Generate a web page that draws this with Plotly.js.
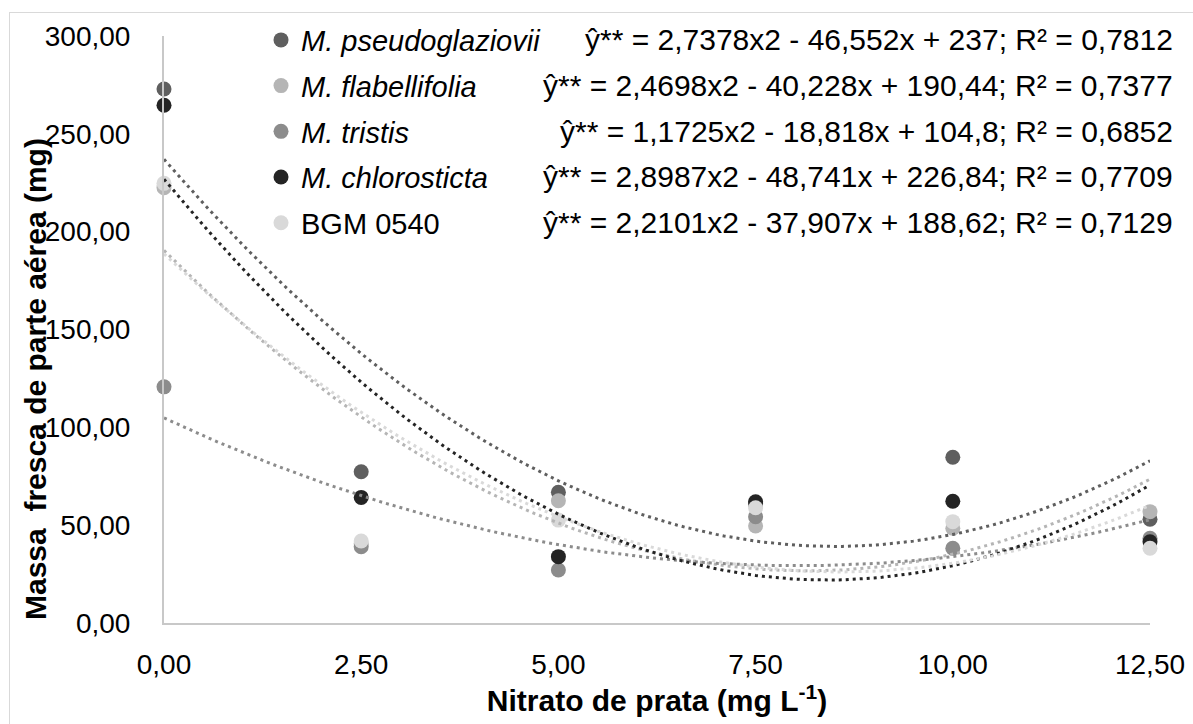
<!DOCTYPE html>
<html>
<head>
<meta charset="utf-8">
<script src="https://cdn.plot.ly/plotly-3.0.1.min.js"></script>
<style>
  html, body { margin: 0; padding: 0; background: #ffffff; }
  #chart { width: 1193px; height: 724px; position: relative; }
  #frame { position: absolute; left: 9px; top: 12px; width: 1300px; height: 800px;
           border: 1px solid #d9d9d9; pointer-events: none; box-sizing: border-box; }
</style>
</head>
<body>
<div id="chart"></div>
<div id="frame"></div>
<script>
// Silver nitrate doses (mg L-1)
const doses = [0, 2.5, 5, 7.5, 10, 12.5];

// Fresh shoot mass (mg) per genotype
const pseudoglaziovii = [272.9, 77.3, 66.8, 61.0, 84.7, 53.0];
const flabellifolia   = [222.5, 40.5, 62.5, 49.6, 48.4, 56.9];
const tristis         = [120.7, 39.0, 27.1, 54.3, 38.2, 43.3];
const chlorosticta    = [264.6, 64.2, 33.9, 62.0, 62.2, 41.5];
const bgm0540         = [224.7, 41.9, 52.6, 58.9, 51.8, 38.2];

const seriesNames = ['<i>M. pseudoglaziovii</i>', '<i>M. flabellifolia</i>', '<i>M. tristis</i>',
                     '<i>M. chlorosticta</i>', 'BGM 0540'];
const seriesColors = ['#5f5f5f', '#b5b5b5', '#8c8c8c', '#242424', '#d9d9d9'];

// Quadratic regression coefficients: y = a*x^2 + b*x + c
const coefA = [2.7378, 2.4698, 1.1725, 2.8987, 2.2101];
const coefB = [-46.552, -40.228, -18.818, -48.741, -37.907];
const coefC = [237, 190.44, 104.8, 226.84, 188.62];
const equations = [
  'ŷ** = 2,7378x2 - 46,552x + 237; R² = 0,7812',
  'ŷ** = 2,4698x2 - 40,228x + 190,44; R² = 0,7377',
  'ŷ** = 1,1725x2 - 18,818x + 104,8; R² = 0,6852',
  'ŷ** = 2,8987x2 - 48,741x + 226,84; R² = 0,7709',
  'ŷ** = 2,2101x2 - 37,907x + 188,62; R² = 0,7129'
];

const yTicks = [0, 50, 100, 150, 200, 250, 300];
const xTicks = [0, 2.5, 5, 7.5, 10, 12.5];

const allSeries = [pseudoglaziovii, flabellifolia, tristis, chlorosticta, bgm0540];
const FONT = 'Liberation Sans, Arial, sans-serif';

const traces = [];
allSeries.forEach((vals, i) => {
  traces.push({
    type: 'scatter', mode: 'markers', x: doses, y: vals,
    name: seriesNames[i], legendgroup: 'g' + i,
    marker: { color: seriesColors[i], size: 15 },
    cliponaxis: false, hoverinfo: 'x+y'
  });
});

// Fitted curves evaluated across the dose range
const xs = [];
for (let k = 0; k <= 125; k++) xs.push(k * 0.1);
allSeries.forEach((vals, i) => {
  traces.push({
    type: 'scatter', mode: 'lines', x: xs,
    y: xs.map(x => coefA[i] * x * x + coefB[i] * x + coefC[i]),
    showlegend: false, hoverinfo: 'skip',
    line: { color: seriesColors[i], width: 3, dash: '3px,4px' },
    cliponaxis: false
  });
});

const rowY = [0.9932, 0.9153, 0.8375, 0.7598, 0.6818];
const annotations = equations.map((t, i) => ({
  xref: 'paper', yref: 'paper', x: 1.0254, y: rowY[i],
  xanchor: 'right', yanchor: 'middle', showarrow: false,
  text: t, font: { family: FONT, size: 30, color: '#000000' }
}));

// Vertical axis title
annotations.push({
  xref: 'paper', yref: 'paper', x: -0.1298, y: 0.4157,
  xanchor: 'center', yanchor: 'middle', textangle: -90, showarrow: false,
  text: '<b>Massa  fresca de parte aérea (mg)</b>',
  font: { family: FONT, size: 30, color: '#000000' }
});

const layout = {
  width: 1193, height: 724,
  margin: { l: 164, r: 43, t: 36, b: 101 },
  paper_bgcolor: '#ffffff', plot_bgcolor: '#ffffff',
  separators: ',.',
  font: { family: FONT, size: 28, color: '#000000' },
  showlegend: true,
  legend: {
    x: 0.0984, y: 1.0365, xanchor: 'left', yanchor: 'top',
    font: { family: FONT, size: 29, color: '#000000' },
    bgcolor: 'rgba(0,0,0,0)', tracegroupgap: 5, traceorder: 'grouped'
  },
  xaxis: {
    range: [0, 12.5], tickvals: xTicks, tickformat: '.2f',
    showgrid: false, zeroline: false, showline: true,
    linecolor: '#c8c8c8', linewidth: 2, ticks: '', ticklabelstandoff: 15,
    tickfont: { family: FONT, size: 28, color: '#000000' },
    title: { text: '<b>Nitrato de prata (mg L<sup>-1</sup>)</b>', standoff: 8,
             font: { family: FONT, size: 30, color: '#000000' } }
  },
  yaxis: {
    range: [0, 300], tickvals: yTicks, tickformat: '.2f',
    showgrid: false, zeroline: false, showline: true,
    linecolor: '#c8c8c8', linewidth: 2, ticks: '', ticklabelstandoff: 26,
    tickfont: { family: FONT, size: 28, color: '#000000' }
  },
  annotations: annotations
};

Plotly.newPlot('chart', traces, layout, { displayModeBar: false, staticPlot: true });
</script>
</body>
</html>
